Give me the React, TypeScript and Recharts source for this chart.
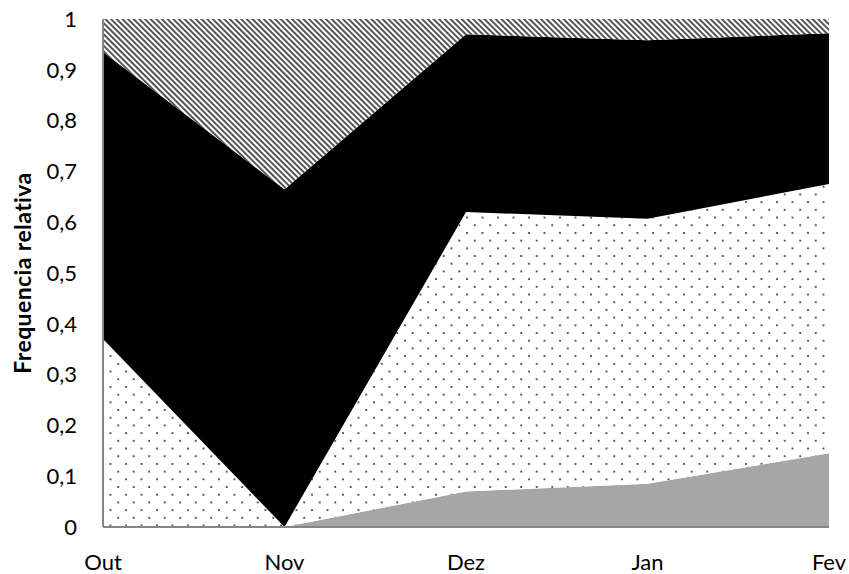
import React from 'react';
import { AreaChart, Area, XAxis, YAxis } from 'recharts';

const months = ['Out', 'Nov', 'Dez', 'Jan', 'Fev'];
const cinza = [0, 0, 0.07, 0.085, 0.145];
const pontilhado = [0.37, 0, 0.55, 0.522, 0.53];
const preto = [0.565, 0.665, 0.35, 0.351, 0.297];
const listrado = [0.065, 0.335, 0.03, 0.042, 0.028];
const yTicks = [0, 0.1, 0.2, 0.3, 0.4, 0.5, 0.6, 0.7, 0.8, 0.9, 1];

const data = months.map((m, i) => ({
  name: m,
  cinza: cinza[i],
  pontilhado: pontilhado[i],
  preto: preto[i],
  listrado: listrado[i],
}));

const fmt = (v: number) => (v === 0 || v === 1 ? String(v) : v.toFixed(1).replace('.', ','));

const font = 'Lato, "Open Sans", sans-serif';

export default function App() {
  return (
    <div style={{ position: 'absolute', left: 0, top: 0 }}>
      <AreaChart
        width={849}
        height={574}
        data={data}
        margin={{ top: 19, right: 20, left: 0, bottom: 0 }}
      >
        <defs>
          <pattern id="dots" width="15.5" height="15.4" patternUnits="userSpaceOnUse">
            <rect width="15.5" height="15.4" fill="#fff" />
            <circle cx="2" cy="2" r="1" fill="#222" />
            <circle cx="9.75" cy="9.7" r="1" fill="#222" />
          </pattern>
          <pattern id="hatch" width="4" height="4" patternUnits="userSpaceOnUse" patternTransform="rotate(-45)">
            <rect width="4" height="4" fill="#fff" />
            <rect width="2" height="4" fill="#555" />
          </pattern>
        </defs>
        <XAxis
          dataKey="name"
          axisLine={{ stroke: '#868686', strokeWidth: 2 }}
          tickLine={false}
          tickSize={6}
          tickMargin={21}
          height={47}
          tick={{ fill: '#000', fontSize: 22, fontFamily: font }}
          interval={0}
        />
        <YAxis
          domain={[0, 1]}
          ticks={yTicks}
          tickFormatter={fmt}
          width={103}
          axisLine={{ stroke: '#868686', strokeWidth: 2 }}
          tickLine={false}
          tickSize={6}
          tickMargin={20}
          tick={{ fill: '#000', fontSize: 22, fontFamily: font }}
          label={{
            value: 'Frequencia relativa',
            angle: -90,
            position: 'center',
            dx: -29,
            style: { fill: '#000', fontSize: 23, fontWeight: 'bold', fontFamily: font, letterSpacing: 0.4 },
          }}
        />
        <Area type="linear" dataKey="cinza" stackId="1" fill="#a6a6a6" fillOpacity={1} stroke="none" isAnimationActive={false} />
        <Area type="linear" dataKey="pontilhado" stackId="1" fill="url(#dots)" fillOpacity={1} stroke="none" isAnimationActive={false} />
        <Area type="linear" dataKey="preto" stackId="1" fill="#000" fillOpacity={1} stroke="none" isAnimationActive={false} />
        <Area type="linear" dataKey="listrado" stackId="1" fill="url(#hatch)" fillOpacity={1} stroke="none" isAnimationActive={false} />
      </AreaChart>
    </div>
  );
}
